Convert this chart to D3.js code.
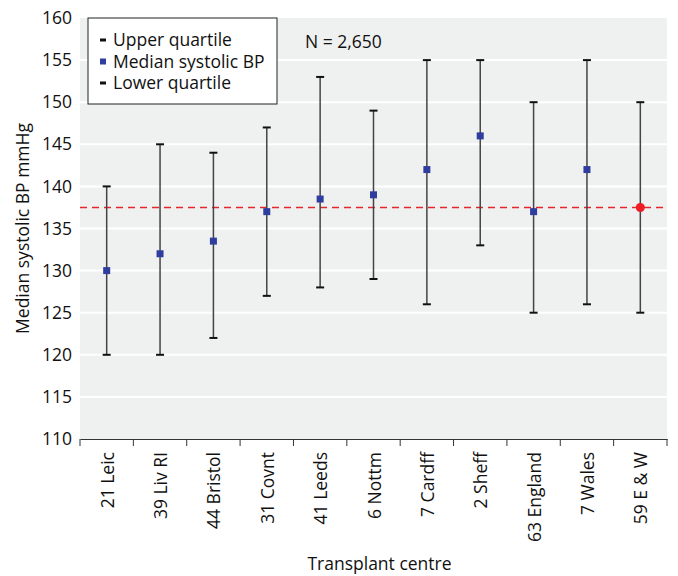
<!DOCTYPE html>
<html>
<head>
<meta charset="utf-8">
<script src="https://cdn.jsdelivr.net/npm/d3@7"></script>
<style>
  body { margin: 0; background: #fff; }
  svg { font-family: "Open Sans", sans-serif; }
</style>
</head>
<body>
<svg id="chart" width="678" height="576"></svg>
<script>
const centres = ["21 Leic", "39 Liv RI", "44 Bristol", "31 Covnt", "41 Leeds", "6 Nottm",
  "7 Cardff", "2 Sheff", "63 England", "7 Wales", "59 E & W"];
const lower = [120, 120, 122, 127, 128, 129, 126, 133, 125, 126, 125];
const median = [130, 132, 133.5, 137, 138.5, 139, 142, 146, 137, 142, 137.5];
const upper = [140, 145, 144, 147, 153, 149, 155, 155, 150, 155, 150];
const refLine = 137.5;
const yTicks = [110, 115, 120, 125, 130, 135, 140, 145, 150, 155, 160];

const svg = d3.select("#chart");
const margin = { top: 18, right: 11, bottom: 137, left: 80 };
const width = 678 - margin.left - margin.right;
const height = 576 - margin.top - margin.bottom;
const fs = 17.5;

const data = centres.map((c, i) => ({ name: c, lo: lower[i], med: median[i], hi: upper[i] }));

const x = d3.scaleBand().domain(centres).range([0, width]);
const y = d3.scaleLinear().domain([110, 160]).range([height, 0]);

const g = svg.append("g").attr("transform", `translate(${margin.left},${margin.top})`);

g.append("rect").attr("width", width).attr("height", height).attr("fill", "#eff0f0");

// gridlines
g.selectAll(".grid")
  .data(yTicks.filter(t => t > 110 && t < 160))
  .join("line")
  .attr("x1", 0).attr("x2", width)
  .attr("y1", d => y(d)).attr("y2", d => y(d))
  .attr("stroke", "#fff").attr("stroke-width", 2);

// y axis labels
const yAxis = g.append("g").call(d3.axisLeft(y).tickValues(yTicks).tickSize(0).tickPadding(8));
yAxis.select(".domain").remove();
yAxis.selectAll("text").attr("font-size", fs).attr("fill", "#111").attr("font-family", "Open Sans");

// x axis
const xAxis = g.append("g").attr("transform", `translate(0,${height})`)
  .call(d3.axisBottom(x).tickSize(0).tickFormat(""));
xAxis.select(".domain").attr("stroke", "#333");
g.append("g").selectAll("line")
  .data(d3.range(centres.length + 1))
  .join("line")
  .attr("x1", i => i * x.step()).attr("x2", i => i * x.step())
  .attr("y1", height).attr("y2", height + 7)
  .attr("stroke", "#333");

g.append("g").selectAll("text")
  .data(centres)
  .join("text")
  .attr("transform", d => `translate(${x(d) + x.bandwidth() / 2 + 7},${height + 13}) rotate(-90)`)
  .attr("text-anchor", "end")
  .attr("font-size", fs)
  .attr("fill", "#111")
  .text(d => d);

// reference line
g.append("line")
  .attr("x1", 0).attr("x2", width)
  .attr("y1", y(refLine)).attr("y2", y(refLine))
  .attr("stroke", "#e5262c").attr("stroke-width", 1.4)
  .attr("stroke-dasharray", "7,5");

// whiskers
const cx = d => x(d.name) + x.bandwidth() / 2;
const pts = g.append("g").selectAll("g").data(data).join("g");
pts.append("line")
  .attr("x1", cx).attr("x2", cx)
  .attr("y1", d => y(d.lo)).attr("y2", d => y(d.hi))
  .attr("stroke", "#444").attr("stroke-width", 1.5);
pts.append("line")
  .attr("x1", d => cx(d) - 4).attr("x2", d => cx(d) + 4)
  .attr("y1", d => y(d.hi)).attr("y2", d => y(d.hi))
  .attr("stroke", "#111").attr("stroke-width", 2);
pts.append("line")
  .attr("x1", d => cx(d) - 4).attr("x2", d => cx(d) + 4)
  .attr("y1", d => y(d.lo)).attr("y2", d => y(d.lo))
  .attr("stroke", "#111").attr("stroke-width", 2);

pts.filter((d, i) => i < data.length - 1).append("rect")
  .attr("x", d => cx(d) - 3.5).attr("y", d => y(d.med) - 3.5)
  .attr("width", 7).attr("height", 7)
  .attr("fill", "#2f3e9e");
pts.filter((d, i) => i === data.length - 1).append("circle")
  .attr("cx", cx).attr("cy", d => y(d.med)).attr("r", 4.5)
  .attr("fill", "#ee1c25");

// legend
const leg = g.append("g").attr("transform", "translate(8,0)");
leg.append("rect").attr("width", 189).attr("height", 86)
  .attr("fill", "#fff").attr("stroke", "#222").attr("stroke-width", 1);
const legItems = [
  { label: "Upper quartile", type: "dash" },
  { label: "Median systolic BP", type: "sq" },
  { label: "Lower quartile", type: "dash" }
];
legItems.forEach((it, i) => {
  const ly = 22 + i * 21.5;
  if (it.type === "dash") {
    leg.append("rect").attr("x", 12).attr("y", ly - 1.5).attr("width", 6).attr("height", 3).attr("fill", "#111");
  } else {
    leg.append("rect").attr("x", 12).attr("y", ly - 3).attr("width", 6).attr("height", 6).attr("fill", "#2f3e9e");
  }
  leg.append("text").attr("x", 25).attr("y", ly).attr("dy", "0.35em")
    .attr("font-size", fs).attr("fill", "#111").text(it.label);
});

g.append("text").attr("x", 225).attr("y", 24).attr("dy", "0.35em")
  .attr("font-size", fs).attr("fill", "#111").text("N = 2,650");

// axis titles
svg.append("text")
  .attr("transform", `translate(29,${margin.top + height / 2}) rotate(-90)`)
  .attr("text-anchor", "middle").attr("font-size", fs).attr("fill", "#111")
  .text("Median systolic BP mmHg");
svg.append("text")
  .attr("x", margin.left + width / 2 + 6).attr("y", 570)
  .attr("text-anchor", "middle").attr("font-size", fs).attr("fill", "#111")
  .text("Transplant centre");
</script>
</body>
</html>
